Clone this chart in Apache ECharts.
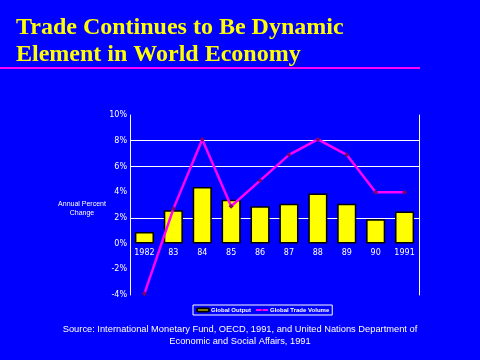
<!DOCTYPE html>
<html><head><meta charset="utf-8">
<script src="https://cdn.jsdelivr.net/npm/echarts@6/dist/echarts.min.js"></script>
<style>html,body{margin:0;padding:0;background:#0000ff;}#c{width:480px;height:360px;}</style>
</head><body><div id="c"></div>
<script>
const categories = ['1982','83','84','85','86','87','88','89','90','1991'];
const globalOutput = [0.9, 2.6, 4.4, 3.4, 2.9, 3.1, 3.9, 3.1, 1.9, 2.5];
const globalTradeVolume = [-3.9, 2.7, 8.1, 2.9, 4.9, 6.9, 8.1, 6.9, 4.0, 4.0];
const yMin = -4, yMax = 10, yStep = 2;
const titleText = 'Trade Continues to Be Dynamic\nElement in World Economy';
const axisName = 'Annual Percent\nChange';
const sourceText = 'Source: International Monetary Fund, OECD, 1991, and United Nations Department of\nEconomic and Social Affairs, 1991';

const chart = echarts.init(document.getElementById('c'), null, {renderer:'canvas'});
const BG = '#0000ff';
chart.setOption({
  backgroundColor: BG,
  animation: false,
  title: {
    text: titleText, left: 16, top: 14, padding: 0,
    textStyle: {color:'#ffff00', fontFamily:'Liberation Serif', fontWeight:'bold', fontSize:24, lineHeight:27}
  },
  grid: {left:130, right:61, top:115, bottom:65},
  legend: {
    left: 193, top: 305, itemWidth: 12, itemHeight: 3, itemGap: 4,
    padding: [2,3,2,3], borderColor:'#ffffff', borderWidth:1,
    textStyle: {color:'#ffffff', fontSize:6, fontFamily:'Liberation Sans', fontWeight:'bold', padding:[0,0,0,-3]},
    data: ['Global Output','Global Trade Volume']
  },
  xAxis: {
    type:'category', data: categories, offset: -51,
    axisLine: {show:false},
    axisTick: {show:false},
    axisLabel: {color:'#ffffff', fontSize:8, fontFamily:'DejaVu Sans', margin:5}
  },
  yAxis: [{
    type:'value', min:yMin, max:yMax, interval:yStep,
    axisLine:{show:true, lineStyle:{color:'#ffffff', width:1}},
    axisTick:{show:false},
    axisLabel:{color:'#ffffff', fontSize:8, fontFamily:'DejaVu Sans', formatter:'{value}%', margin:3},
    splitLine:{show:true, lineStyle:{color:[BG,BG,BG,'#ffffff',BG,'#ffffff','#ffffff',BG], width:1}}
  },{
    type:'value', min:yMin, max:yMax, interval:yStep, position:'right',
    axisLine:{show:true, lineStyle:{color:'#ffffff', width:1}},
    axisTick:{show:false}, axisLabel:{show:false}, splitLine:{show:false}
  }],
  graphic: [
    {type:'rect', left:0, top:67, shape:{width:420, height:2}, style:{fill:'#ff00ff'}},
    {type:'text', x:82, y:200, style:{text:axisName, fill:'#ffffff', fontSize:7, fontFamily:'Liberation Sans', textAlign:'center', lineHeight:9}},
    {type:'text', x:240, y:323, style:{text:sourceText, fill:'#ffffff', fontSize:9.3, fontFamily:'Liberation Sans', textAlign:'center', lineHeight:12}}
  ],
  series: [{
    name:'Global Output', type:'bar', data: globalOutput, barWidth:'66%', z:2,
    itemStyle:{color:'#ffff00', borderColor:'#000000', borderWidth:1.5}
  },{
    name:'Global Trade Volume', type:'line', data: globalTradeVolume, z:3,
    symbol:'diamond', symbolSize:5,
    lineStyle:{color:'#ff00ff', width:2.5},
    itemStyle:{color:'#800070'}
  }]
});
</script></body></html>
